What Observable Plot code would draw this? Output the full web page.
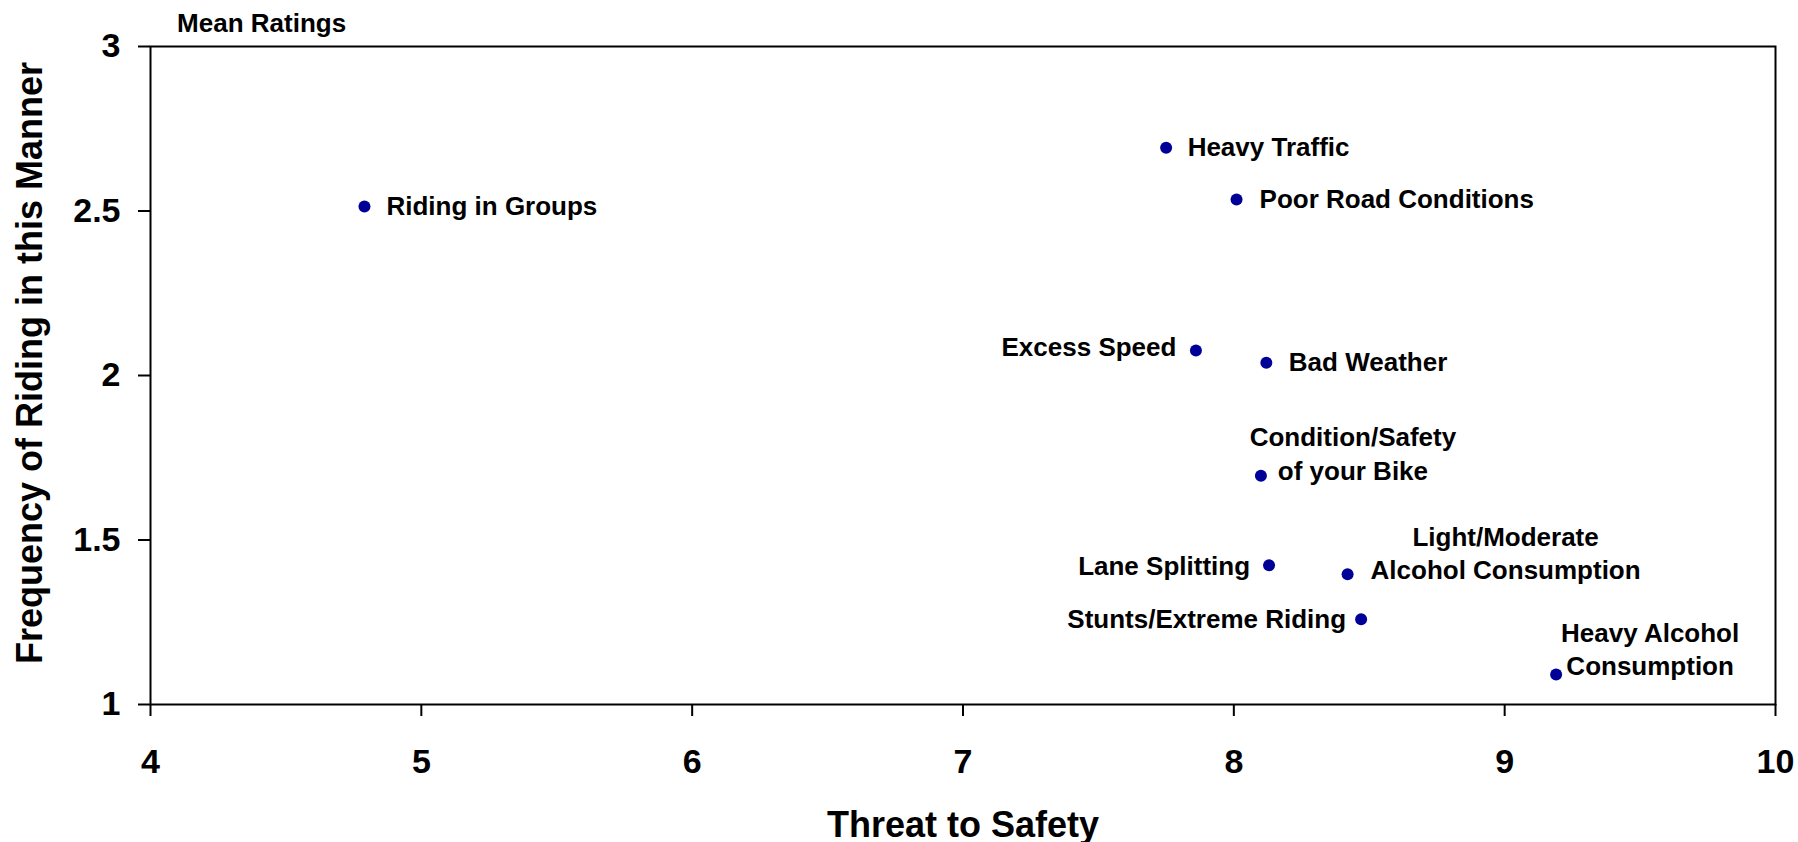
<!DOCTYPE html>
<html><head><meta charset="utf-8">
<script src="https://cdn.jsdelivr.net/npm/d3@7"></script>
<script src="https://cdn.jsdelivr.net/npm/@observablehq/plot@0.6"></script>
<style>
body{margin:0;background:#fff;}
#chart svg{display:block;}
</style></head><body><div id="chart"></div>
<script>
// ---- data ----
const categories = [
  "Riding in Groups",
  "Heavy Traffic",
  "Poor Road Conditions",
  "Excess Speed",
  "Bad Weather",
  "Condition/Safety\nof your Bike",
  "Lane Splitting",
  "Light/Moderate\nAlcohol Consumption",
  "Stunts/Extreme Riding",
  "Heavy Alcohol\nConsumption"
];
const threatToSafety = [4.79, 7.75, 8.01, 7.86, 8.12, 8.10, 8.13, 8.42, 8.47, 9.19];
const ridingFrequency = [2.514, 2.692, 2.535, 2.076, 2.039, 1.695, 1.423, 1.396, 1.259, 1.091];
const xTicks = [4, 5, 6, 7, 8, 9, 10];
const xTickLabels = ["4", "5", "6", "7", "8", "9", "10"];
const yTicks = [1, 1.5, 2, 2.5, 3];
const yTickLabels = ["1", "1.5", "2", "2.5", "3"];
const subtitle = "Mean Ratings";
const xTitle = "Threat to Safety";
const yTitle = "Frequency of Riding in this Manner";

// ---- label placement (style only) ----
const labelLayout = {
  "Riding in Groups": {dx: 22, dy: -2.5, anchor: "start"},
  "Heavy Traffic": {dx: 21.5, dy: -2.5, anchor: "start"},
  "Poor Road Conditions": {dx: 23, dy: -2, anchor: "start"},
  "Excess Speed": {dx: -19.5, dy: -5.5, anchor: "end"},
  "Bad Weather": {dx: 22.5, dy: -2, anchor: "start"},
  "Condition/Safety\nof your Bike": {dx: 92, dy: -23.5, anchor: "middle"},
  "Lane Splitting": {dx: -19, dy: -1.5, anchor: "end"},
  "Light/Moderate\nAlcohol Consumption": {dx: 158, dy: -22.5, anchor: "middle"},
  "Stunts/Extreme Riding": {dx: -15, dy: -1.5, anchor: "end"},
  "Heavy Alcohol\nConsumption": {dx: 94, dy: -26.5, anchor: "middle"}
};

const data = categories.map((c, i) => ({name: c, x: threatToSafety[i], y: ridingFrequency[i]}));

const font = "Arial, 'Liberation Sans', Helvetica, sans-serif";

const labelMarks = data.map(d => {
  const L = labelLayout[d.name];
  return Plot.text([d], {
    x: "x", y: "y", text: "name",
    dx: L.dx, dy: L.dy, textAnchor: L.anchor, lineAnchor: "middle",
    lineHeight: 1.285, fontSize: 26, fontWeight: "bold", fill: "black"
  });
});

const chart = Plot.plot({
  width: 1798,
  height: 842,
  marginLeft: 150,
  marginRight: 23,
  marginTop: 46,
  marginBottom: 138,
  style: {fontFamily: font, fontWeight: "bold", background: "white", color: "black", overflow: "visible"},
  x: {domain: [4, 10]},
  y: {domain: [1, 3]},
  marks: [
    Plot.axisX({
      ticks: xTicks, tickSize: 12, tickPadding: 32, fontSize: 34, fontWeight: "bold",
      strokeWidth: 2, label: null,
      tickFormat: d => xTickLabels[xTicks.indexOf(d)]
    }),
    Plot.axisY({
      ticks: yTicks, tickSize: 12, tickPadding: 18, fontSize: 34, fontWeight: "bold",
      strokeWidth: 2, label: null,
      tickFormat: d => yTickLabels[yTicks.indexOf(d)]
    }),
    Plot.frame({stroke: "black", strokeWidth: 2}),
    Plot.dot(data, {x: "x", y: "y", r: 6, fill: "#000099", stroke: "none"}),
    ...labelMarks,
    Plot.text([subtitle], {
      frameAnchor: "top-left", dx: 26.6, dy: -14.3, textAnchor: "start",
      lineAnchor: "bottom", fontSize: 26, fontWeight: "bold"
    }),
    Plot.text([xTitle], {
      frameAnchor: "bottom", dy: 132.7, lineAnchor: "bottom",
      fontSize: 36, fontWeight: "bold"
    }),
    Plot.text([yTitle], {
      frameAnchor: "left", dx: -108.3, dy: -12.5, rotate: -90, lineAnchor: "bottom",
      textAnchor: "middle", fontSize: 36, fontWeight: "bold"
    })
  ]
});

document.getElementById("chart").appendChild(chart);
</script>
</body></html>
